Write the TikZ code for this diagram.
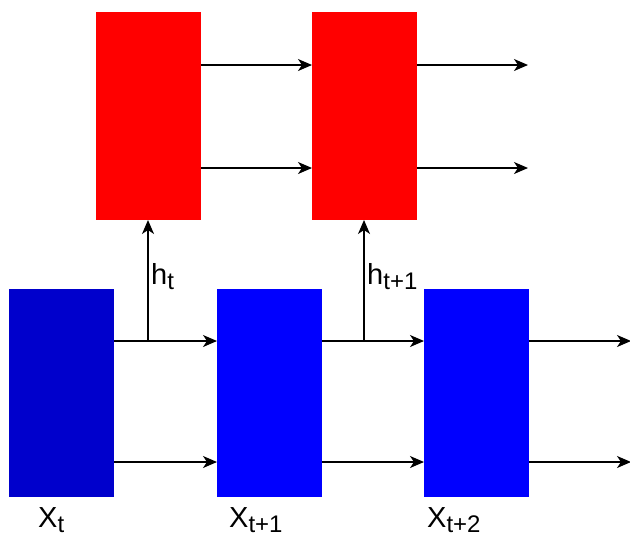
\documentclass[tikz,border=0pt]{standalone}
\usepackage{fontspec}
\setmainfont{Liberation Sans}
\usetikzlibrary{arrows.meta}
\newcommand\sublbl[2]{#1\raisebox{-5.5pt}{\fontsize{24}{24}\selectfont #2}}
\definecolor{bluedark}{HTML}{0000CC}
\definecolor{bluemain}{HTML}{0000FF}
\definecolor{redmain}{HTML}{FF0000}
\begin{document}
\begin{tikzpicture}[x=1pt,y=-1pt,
  cell/.style={minimum width=105pt,minimum height=208pt,inner sep=0pt,outer sep=0pt,draw=none},
  redcell/.style={cell,fill=redmain},
  bluecell/.style={cell,fill=bluemain},
  conn/.style={line width=1.5pt,-{Stealth[length=14pt,width=12pt,inset=4pt]}},
  lbl/.style={inner sep=0pt,anchor=base west,font=\fontsize{29}{29}\selectfont}]
\useasboundingbox (0,0) rectangle (630,539);
% red cells
\node[redcell,anchor=north west] (r1) at (96,12) {};
\node[redcell,anchor=north west] (r2) at (312,12) {};
% blue cells
\node[cell,fill=bluedark,anchor=north west] (b1) at (9,289) {};
\node[bluecell,anchor=north west] (b2) at (217,289) {};
\node[bluecell,anchor=north west] (b3) at (424,289) {};
% free ends
\coordinate (re1) at (528,65);
\coordinate (re2) at (528,168);
\coordinate (be1) at (631,341);
\coordinate (be2) at (631,462);
% junctions
\coordinate (j1) at (148,341);
\coordinate (j2) at (364,341);
% red arrows
\draw[conn] (r1.east |- 0,65) -- (r2.west |- 0,65);
\draw[conn] (r1.east |- 0,168) -- (r2.west |- 0,168);
\draw[conn] (r2.east |- 0,65) -- (re1);
\draw[conn] (r2.east |- 0,168) -- (re2);
% blue arrows
\draw[conn] (b1.east |- 0,341) -- (b2.west |- 0,341);
\draw[conn] (b1.east |- 0,462) -- (b2.west |- 0,462);
\draw[conn] (b2.east |- 0,341) -- (b3.west |- 0,341);
\draw[conn] (b2.east |- 0,462) -- (b3.west |- 0,462);
\draw[conn] (b3.east |- 0,341) -- (be1);
\draw[conn] (b3.east |- 0,462) -- (be2);
% vertical hidden-state arrows
\draw[conn] (j1) -- (j1 |- r1.south);
\draw[conn] (j2) -- (j2 |- r2.south);
% labels
\node[lbl] (ht) at (151,284) {\sublbl{h}{t}};
\node[lbl] (ht1) at (367,284) {\sublbl{h}{t+1}};
\node[lbl] (xt) at (38,527) {\sublbl{X}{t}};
\node[lbl] (xt1) at (229,527) {\sublbl{X}{t+1}};
\node[lbl] (xt2) at (427,527) {\sublbl{X}{t+2}};
\end{tikzpicture}
\end{document}
